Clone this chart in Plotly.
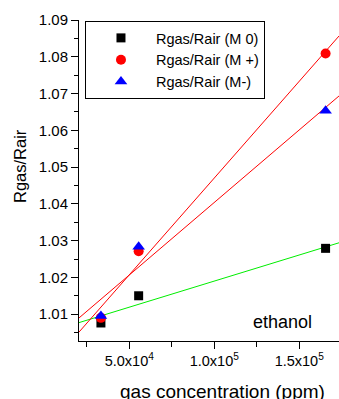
import numpy as np
import plotly.graph_objects as go

# data
conc = [33300, 55500, 165500]
m0 = [1.0076, 1.0150, 1.0279]
mplus = [1.0090, 1.0271, 1.0809]
mminus = [1.0095, 1.0283, 1.0653]
names = ["Rgas/Rair (M 0)", "Rgas/Rair (M +)", "Rgas/Rair (M-)"]
xtick_vals = [50000, 100000, 150000]
xtick_text = ["5.0x10<sup>4</sup>", "1.0x10<sup>5</sup>", "1.5x10<sup>5</sup>"]
ytick_vals = [1.01, 1.02, 1.03, 1.04, 1.05, 1.06, 1.07, 1.08, 1.09]

xr = [20400, 173400]
yr = [1.0027, 1.09]

FONT = "Liberation Sans, Arial, sans-serif"
fig = go.Figure()

# fit lines
fit_colors = ["#00ee00", "#ff0000", "#ff0000"]
for ys, c in zip([m0, mplus, mminus], fit_colors):
    k, b = np.polyfit(conc, ys, 1)
    xs = np.array(xr)
    fig.add_trace(go.Scatter(x=xs, y=k * xs + b, mode="lines",
                             line=dict(color=c, width=1), showlegend=False,
                             hoverinfo="skip"))

fig.add_trace(go.Scatter(x=conc, y=m0, mode="markers", name=names[0],
                         marker=dict(symbol="square", size=9, color="black")))
fig.add_trace(go.Scatter(x=conc, y=mplus, mode="markers", name=names[1],
                         marker=dict(symbol="circle", size=10, color="#ff0000")))
fig.add_trace(go.Scatter(x=conc, y=mminus, mode="markers", name=names[2],
                         marker=dict(symbol="triangle-up", size=11, color="#0000ff")))

fig.update_layout(
    width=339, height=399,
    margin=dict(l=79, r=0, t=20, b=58),
    paper_bgcolor="white", plot_bgcolor="white",
    font=dict(family=FONT, size=15, color="black"),
    legend=dict(x=0.023, y=0.997, xanchor="left", yanchor="top",
                bordercolor="black", borderwidth=1, bgcolor="white",
                font=dict(size=14.5), itemwidth=60, tracegroupgap=0),
    xaxis=dict(range=xr, showgrid=False, zeroline=False, showline=True,
               linecolor="black", linewidth=1, ticks="outside", ticklen=7,
               tickcolor="black", tickvals=xtick_vals, ticktext=xtick_text,
               tickfont=dict(size=14.5),
               minor=dict(tickvals=[25000, 75000, 125000], ticks="outside",
                          ticklen=5, tickcolor="black")),
    yaxis=dict(range=yr, showgrid=False, zeroline=False, showline=True,
               linecolor="black", linewidth=1, ticks="outside", ticklen=7,
               tickcolor="black", tickvals=ytick_vals, tickformat=".2f",
               tickfont=dict(size=15),
               minor=dict(dtick=0.005, ticks="outside", ticklen=4,
                          tickcolor="black")),
    annotations=[
        dict(text="gas concentration (ppm)", xref="paper", yref="paper",
             x=(222 - 79) / 260, y=-(391 - 341) / 321, xanchor="center",
             yanchor="middle", showarrow=False, font=dict(size=19)),
        dict(text="Rgas/Rair", xref="paper", yref="paper",
             x=-(79 - 20) / 260, y=(341 - 166) / 321, xanchor="center",
             yanchor="middle", textangle=-90, showarrow=False,
             font=dict(size=16.5)),
        dict(text="ethanol", xref="paper", yref="paper",
             x=(282.5 - 79) / 260, y=(341 - 322) / 321, xanchor="center",
             yanchor="middle", showarrow=False, font=dict(size=18)),
    ],
)

fig.write_html("out.html", config={"displayModeBar": False},
               post_script="document.body.style.margin='0';document.body.style.overflow='hidden';")
